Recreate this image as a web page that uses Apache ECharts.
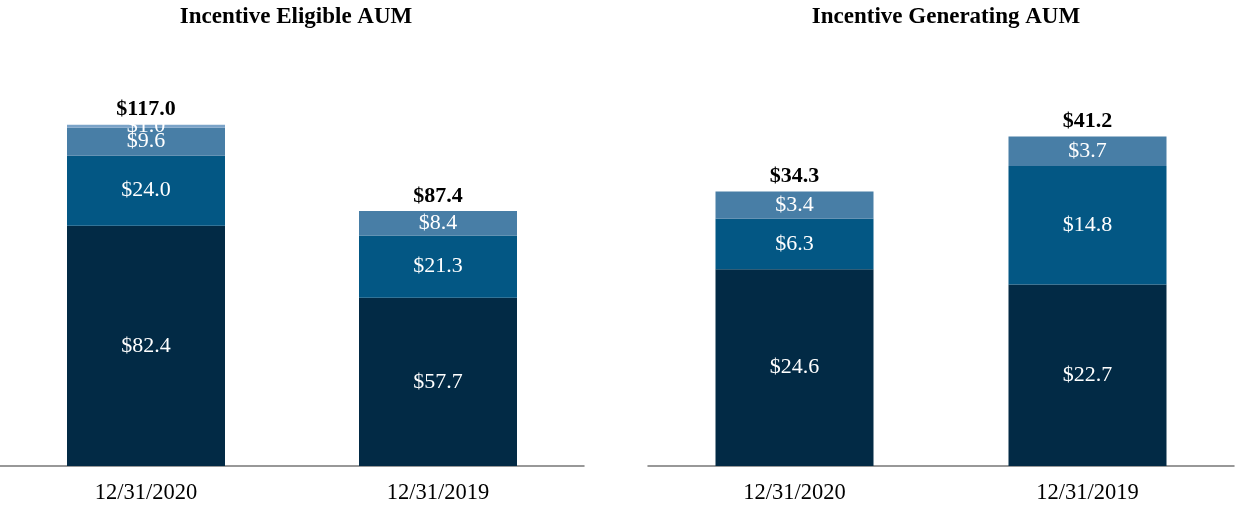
<!DOCTYPE html>
<html>
<head>
<meta charset="utf-8">
<script src="https://cdn.jsdelivr.net/npm/echarts@6/dist/echarts.min.js"></script>
<style>html,body{margin:0;padding:0;background:#fff}#c{width:1239px;height:510px}</style>
</head>
<body>
<div id="c"></div>
<script>
var categories = ['12/31/2020', '12/31/2019'];
// Incentive Eligible AUM segments (bottom to top)
var eligibleS1 = [82.4, 57.7];
var eligibleS2 = [24.0, 21.3];
var eligibleS3 = [9.6, 8.4];
var eligibleS4 = [1.0, 0];
var eligibleTotals = [117.0, 87.4];
// Incentive Generating AUM segments (bottom to top)
var generatingS1 = [24.6, 22.7];
var generatingS2 = [6.3, 14.8];
var generatingS3 = [3.4, 3.7];
var generatingTotals = [34.3, 41.2];

var colors = ['#022A45', '#035784', '#487EA6', '#7BA3C8'];
var FONT = 'Liberation Serif';

function seg(name, data, color, axis, stack) {
  return {
    name: name, type: 'bar', stack: stack, data: data,
    xAxisIndex: axis, yAxisIndex: axis, barWidth: 158,
    itemStyle: { color: color },
    label: {
      show: true, position: 'inside', color: '#fff', fontFamily: FONT, fontSize: 22,
      formatter: function (p) { return p.value ? '$' + p.value.toFixed(1) : ''; }
    }
  };
}
function total(data, totals, axis, stack) {
  return {
    type: 'bar', stack: stack, data: data.map(function () { return 0; }),
    xAxisIndex: axis, yAxisIndex: axis, barWidth: 158,
    itemStyle: { color: 'transparent' },
    label: {
      show: true, position: 'top', distance: 4, color: '#000', fontFamily: FONT, fontSize: 22, fontWeight: 'bold',
      formatter: function (p) { return '$' + totals[p.dataIndex].toFixed(1); }
    }
  };
}
function xAx(i) {
  return {
    type: 'category', data: categories, gridIndex: i,
    axisLine: { lineStyle: { color: '#777', width: 1.5 } },
    axisTick: { alignWithLabel: true, length: 6, lineStyle: { color: '#777' } },
    axisLabel: { color: '#000', fontFamily: FONT, fontSize: 22.5, margin: 16 }
  };
}
function yAx(i, max) {
  return { type: 'value', gridIndex: i, min: 0, max: max, show: false, splitLine: { show: false } };
}

var chart = echarts.init(document.getElementById('c'));
chart.setOption({
  animation: false,
  title: [
    { text: 'Incentive Eligible AUM', left: 291, top: 1, textAlign: 'center',
      textStyle: { fontFamily: FONT, fontSize: 23, fontWeight: 'bold', color: '#000' } },
    { text: 'Incentive Generating AUM', left: 941, top: 1, textAlign: 'center',
      textStyle: { fontFamily: FONT, fontSize: 23, fontWeight: 'bold', color: '#000' } }
  ],
  grid: [
    { left: 0, width: 584, top: 116, bottom: 44 },
    { left: 648, width: 586, top: 106, bottom: 44 }
  ],
  xAxis: [xAx(0), xAx(1)],
  yAxis: [yAx(0, 120), yAx(1, 45)],
  series: [
    seg('s1', eligibleS1, colors[0], 0, 'e'),
    seg('s2', eligibleS2, colors[1], 0, 'e'),
    seg('s3', eligibleS3, colors[2], 0, 'e'),
    seg('s4', eligibleS4, colors[3], 0, 'e'),
    total(eligibleS1, eligibleTotals, 0, 'e'),
    seg('g1', generatingS1, colors[0], 1, 'g'),
    seg('g2', generatingS2, colors[1], 1, 'g'),
    seg('g3', generatingS3, colors[2], 1, 'g'),
    total(generatingS1, generatingTotals, 1, 'g')
  ]
});
</script>
</body>
</html>
